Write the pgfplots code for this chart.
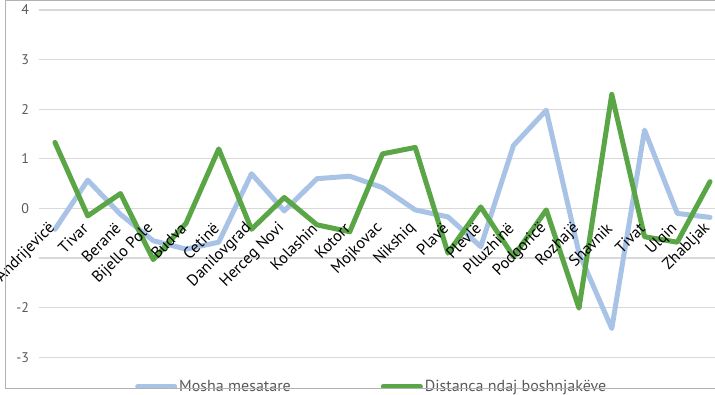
\documentclass[border=0pt]{standalone}
\usepackage{fontspec}
\setmainfont{PT Sans}
\usepackage{pgfplots}
\pgfplotsset{compat=1.18}
\definecolor{lblue}{HTML}{A9C3E6}
\definecolor{dgreen}{HTML}{5AA545}
\definecolor{gridc}{HTML}{D9D9D9}
\definecolor{tickc}{HTML}{595959}
\pgfplotsset{
  base/.style={
    at={(0pt,0pt)}, anchor=south west,
    scale only axis, width=687.8pt, height=347.3pt,
    xmin=-0.5, xmax=20.5, ymin=-3, ymax=4,
    axis x line=middle, axis y line=left,
    axis line style={draw=none},
    major tick length=0pt,
    xtick={0,...,20},
    ytick={-3,-2,-1,0,1,2,3,4},
  }
}
\begin{document}
\begin{tikzpicture}
\path[use as bounding box] (-38.6pt,-37.7pt) rectangle (676.4pt,357.3pt);
\begin{axis}[
  base,
  xticklabels={},
  yticklabels={-3,-2,,0,1,2,3,4},
  ymajorgrids, grid style={gridc, line width=1.2pt},
  yticklabel style={font=\fontsize{14}{16}\selectfont, text=tickc, xshift=-6pt},
  legend columns=2,
  legend style={at={(0.1402,0)}, anchor=west, yshift=-29pt, draw=none, fill=none, inner sep=0pt,
    font=\fontsize{16}{18}\selectfont, text=tickc,
    /tikz/every even column/.append style={column sep=88pt}},
  legend image code/.code={\draw[#1, line cap=round] (0pt,0pt) -- (37pt,0pt);},
]
\addplot[lblue, line width=5pt, line join=round, line cap=round] coordinates {
(0,-0.42) (1,0.57) (2,-0.12) (3,-0.65) (4,-0.82) (5,-0.68) (6,0.7) (7,-0.05) (8,0.6) (9,0.65) (10,0.42)
(11,-0.03) (12,-0.17) (13,-0.77) (14,1.27) (15,1.98) (16,-0.9) (17,-2.42) (18,1.58) (19,-0.1) (20,-0.18)};
\addlegendentry{Mosha mesatare}
\addplot[dgreen, line width=5pt, line join=round, line cap=round] coordinates {
(0,1.33) (1,-0.15) (2,0.3) (3,-1.03) (4,-0.3) (5,1.2) (6,-0.42) (7,0.22) (8,-0.33) (9,-0.47) (10,1.1)
(11,1.23) (12,-0.9) (13,0.03) (14,-0.97) (15,-0.03) (16,-2.01) (17,2.3) (18,-0.57) (19,-0.68) (20,0.54)};
\addlegendentry{Distanca ndaj boshnjakëve}
\end{axis}
\begin{axis}[
  base,
  yticklabels={},
  xticklabels={Andrijevicë,Tivar,Beranë,Bijello Pole,Budva,Cetinë,Danilovgrad,Herceg Novi,Kolashin,Kotorr,Mojkovac,Nikshiq,Plavë,Plevlë,Plluzhinë,Podgoricë,Rozhajë,Shavnik,Tivat,Ulqin,Zhabljak},
  xticklabel style={yshift=-15pt, rotate=45, anchor=east, font=\fontsize{16}{18}\selectfont, text=black},
]
\end{axis}
\draw[color=black!30, line width=1pt] (720pt,356.3pt) -- (-32.9pt,356.3pt) -- (-32.9pt,-31.7pt) -- (720pt,-31.7pt);
\end{tikzpicture}
\end{document}
